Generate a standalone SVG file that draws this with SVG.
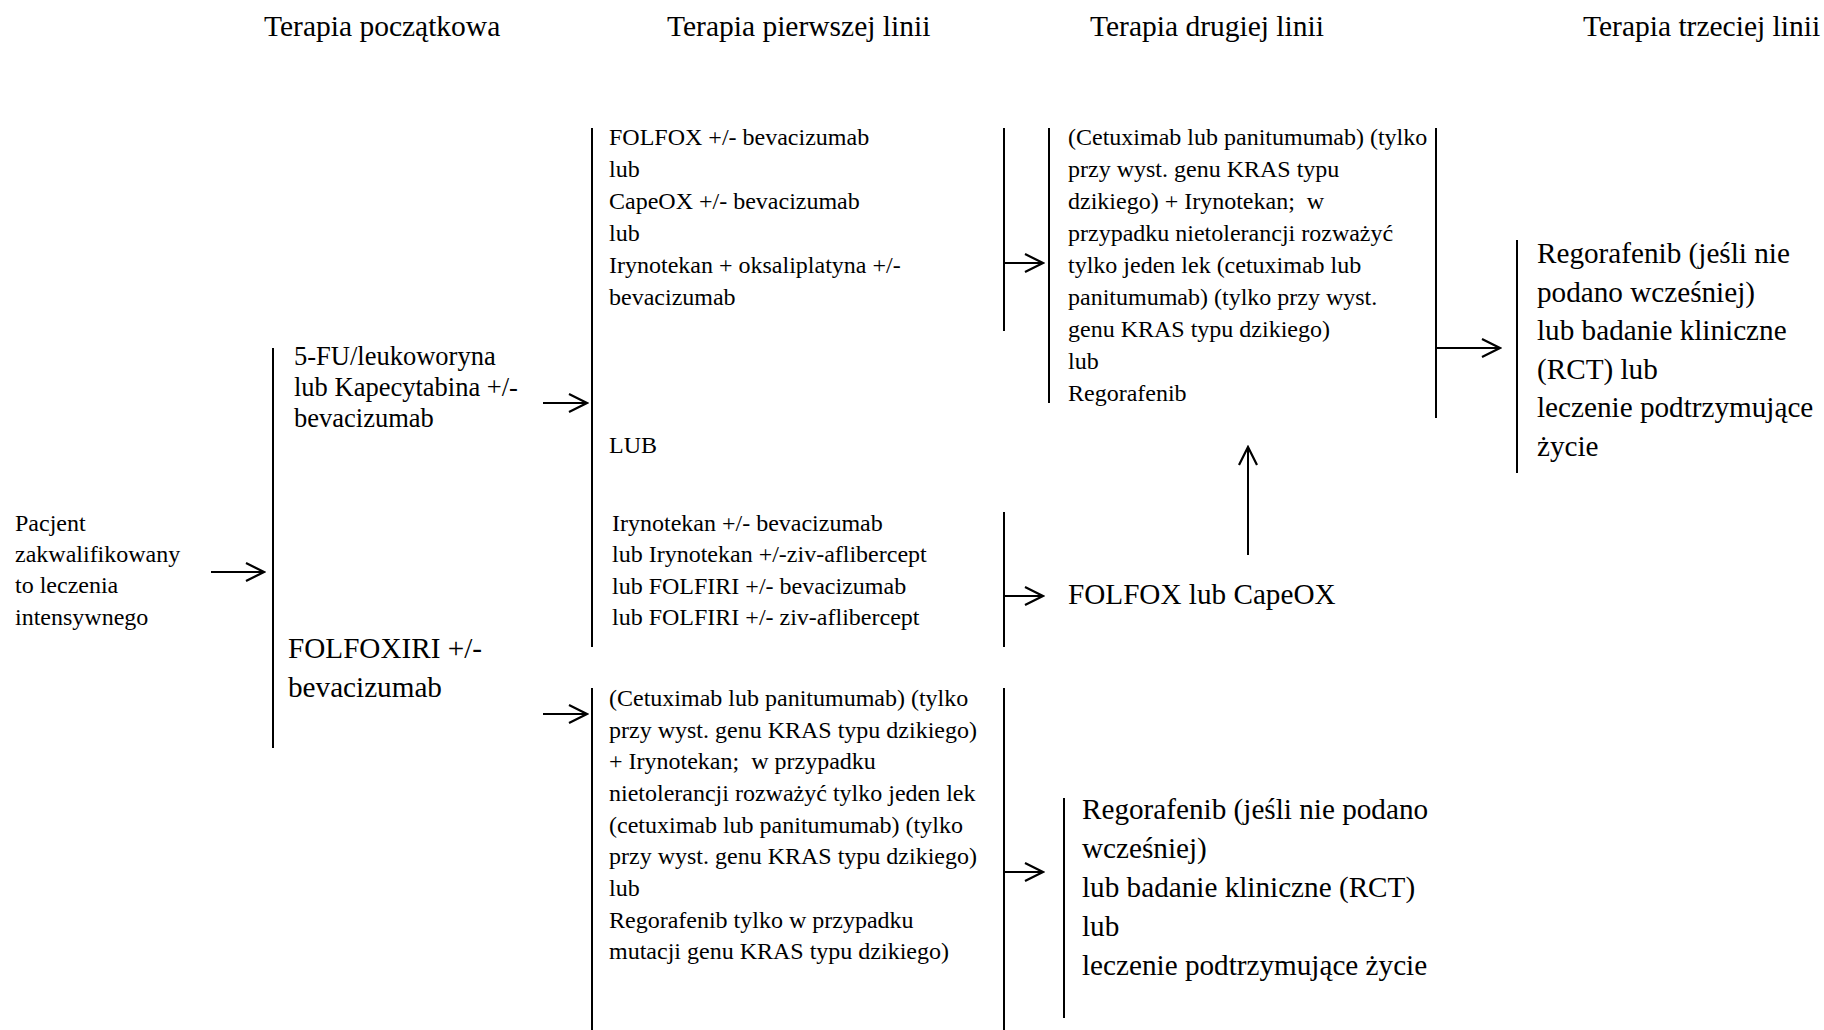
<svg xmlns="http://www.w3.org/2000/svg" width="1824" height="1030" viewBox="0 0 1824 1030">
<defs>
<style>
text{font-family:"Liberation Serif","Times New Roman",serif;fill:#000;white-space:pre}
.h{font-size:29.5px}
.s{font-size:24px}
.m{font-size:26.5px}
.b{font-size:29.2px}
.r{font-size:29.2px}
.ln{stroke:#000;stroke-width:2;fill:none}
.ar{stroke:#000;stroke-width:2;fill:none;marker-end:url(#ah)}
</style>
<marker id="ah" viewBox="-20 -11 22 22" markerWidth="22" markerHeight="22" refX="0" refY="0" markerUnits="userSpaceOnUse" orient="auto">
<path d="M-18,-9 L0,0 L-18,9" fill="none" stroke="#000" stroke-width="2.2"/>
</marker>
</defs>
<rect width="1824" height="1030" fill="#fff"/>

<g id="headers">
<text class="h" x="264" y="36">Terapia początkowa</text>
<text class="h" x="667" y="36">Terapia pierwszej linii</text>
<text class="h" x="1090" y="36">Terapia drugiej linii</text>
<text class="h" x="1583" y="36">Terapia trzeciej linii</text>
</g>

<g id="node-patient">
<text class="s" x="15" y="531">Pacjent</text>
<text class="s" x="15" y="562">zakwalifikowany</text>
<text class="s" x="15" y="593">to leczenia</text>
<text class="s" x="15" y="625">intensywnego</text>
</g>

<g id="node-5fu">
<text class="m" x="294" y="365">5-FU/leukoworyna</text>
<text class="m" x="294" y="396">lub Kapecytabina +/-</text>
<text class="m" x="294" y="427">bevacizumab</text>
</g>

<g id="node-folfoxiri">
<text class="b" x="288" y="658">FOLFOXIRI +/-</text>
<text class="b" x="288" y="697">bevacizumab</text>
</g>

<g id="node-first-line-a">
<text class="s" x="609" y="145">FOLFOX +/- bevacizumab</text>
<text class="s" x="609" y="177">lub</text>
<text class="s" x="609" y="209">CapeOX +/- bevacizumab</text>
<text class="s" x="609" y="241">lub</text>
<text class="s" x="609" y="273">Irynotekan + oksaliplatyna +/-</text>
<text class="s" x="609" y="305">bevacizumab</text>
</g>

<g id="node-lub">
<text class="s" x="609" y="453">LUB</text>
</g>

<g id="node-first-line-b">
<text class="s" x="612" y="531">Irynotekan +/- bevacizumab</text>
<text class="s" x="612" y="562">lub Irynotekan +/-ziv-aflibercept</text>
<text class="s" x="612" y="594">lub FOLFIRI +/- bevacizumab</text>
<text class="s" x="612" y="625">lub FOLFIRI +/- ziv-aflibercept</text>
</g>

<g id="node-first-line-c">
<text class="s" x="609" y="706">(Cetuximab lub panitumumab) (tylko</text>
<text class="s" x="609" y="738">przy wyst. genu KRAS typu dzikiego)</text>
<text class="s" x="609" y="769">+ Irynotekan;  w przypadku</text>
<text class="s" x="609" y="801">nietolerancji rozważyć tylko jeden lek</text>
<text class="s" x="609" y="833">(cetuximab lub panitumumab) (tylko</text>
<text class="s" x="609" y="864">przy wyst. genu KRAS typu dzikiego)</text>
<text class="s" x="609" y="896">lub</text>
<text class="s" x="609" y="928">Regorafenib tylko w przypadku</text>
<text class="s" x="609" y="959">mutacji genu KRAS typu dzikiego)</text>
</g>

<g id="node-second-line-a">
<text class="s" x="1068" y="145">(Cetuximab lub panitumumab) (tylko</text>
<text class="s" x="1068" y="177">przy wyst. genu KRAS typu</text>
<text class="s" x="1068" y="209">dzikiego) + Irynotekan;  w</text>
<text class="s" x="1068" y="241">przypadku nietolerancji rozważyć</text>
<text class="s" x="1068" y="273">tylko jeden lek (cetuximab lub</text>
<text class="s" x="1068" y="305">panitumumab) (tylko przy wyst.</text>
<text class="s" x="1068" y="337">genu KRAS typu dzikiego)</text>
<text class="s" x="1068" y="369">lub</text>
<text class="s" x="1068" y="401">Regorafenib</text>
</g>

<g id="node-second-line-b">
<text class="b" x="1068" y="604">FOLFOX lub CapeOX</text>
</g>

<g id="node-second-line-c">
<text class="r" x="1082" y="819">Regorafenib (jeśli nie podano</text>
<text class="r" x="1082" y="858">wcześniej)</text>
<text class="r" x="1082" y="897">lub badanie kliniczne (RCT)</text>
<text class="r" x="1082" y="936">lub</text>
<text class="r" x="1082" y="975">leczenie podtrzymujące życie</text>
</g>

<g id="node-third-line">
<text class="r" x="1537" y="263">Regorafenib (jeśli nie</text>
<text class="r" x="1537" y="302">podano wcześniej)</text>
<text class="r" x="1537" y="340">lub badanie kliniczne</text>
<text class="r" x="1537" y="379">(RCT) lub</text>
<text class="r" x="1537" y="417">leczenie podtrzymujące</text>
<text class="r" x="1537" y="456">życie</text>
</g>

<g id="connectors">
<line class="ln" x1="273" y1="348" x2="273" y2="748"/>
<line class="ln" x1="592" y1="128" x2="592" y2="647"/>
<line class="ln" x1="592" y1="688" x2="592" y2="1030"/>
<line class="ln" x1="1004" y1="128" x2="1004" y2="331"/>
<line class="ln" x1="1049" y1="128" x2="1049" y2="403"/>
<line class="ln" x1="1436" y1="128" x2="1436" y2="418"/>
<line class="ln" x1="1517" y1="240" x2="1517" y2="473"/>
<line class="ln" x1="1004" y1="512" x2="1004" y2="647"/>
<line class="ln" x1="1004" y1="688" x2="1004" y2="1030"/>
<line class="ln" x1="1064" y1="798" x2="1064" y2="1018"/>
<line class="ar" x1="211" y1="572" x2="264" y2="572"/>
<line class="ar" x1="543" y1="403" x2="587" y2="403"/>
<line class="ar" x1="543" y1="714" x2="587" y2="714"/>
<line class="ar" x1="1004" y1="263" x2="1043" y2="263"/>
<line class="ar" x1="1004" y1="596" x2="1043" y2="596"/>
<line class="ar" x1="1004" y1="872" x2="1043" y2="872"/>
<line class="ar" x1="1436" y1="348" x2="1500" y2="348"/>
<line class="ar" x1="1248" y1="555" x2="1248" y2="447"/>
</g>
</svg>
